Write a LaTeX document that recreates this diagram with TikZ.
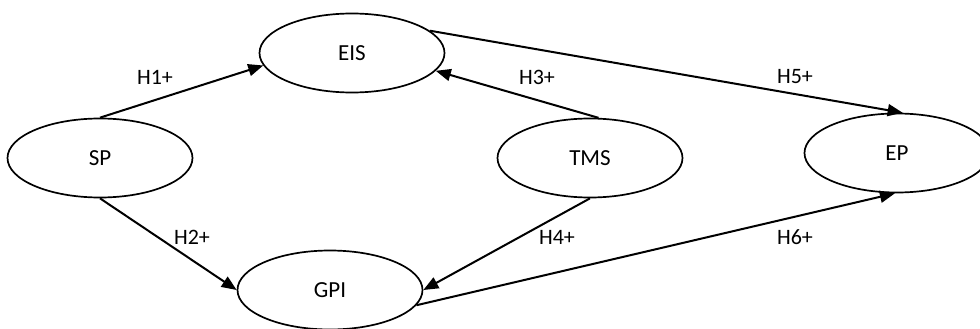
\documentclass[tikz,border=0pt]{standalone}
\usepackage{fontspec}
\setmainfont{Carlito}
\usetikzlibrary{shapes.geometric,arrows.meta}
\begin{document}
\begin{tikzpicture}[x=1pt,y=-1pt,
  construct/.style={ellipse,draw,line width=1.7pt,minimum width=185pt,minimum height=79pt,inner sep=0pt,font=\fontsize{23}{27}\selectfont},
  hyp/.style={font=\fontsize{22}{26}\selectfont,inner sep=0pt},
  link/.style={line width=2pt,-{Triangle[length=15pt,width=12pt]}}]
\useasboundingbox (0,0) rectangle (980,329);
\clip (0,0) rectangle (980,329);
\node[construct] (EIS) at (352,53) {EIS};
\node[construct] (SP) at (100,158) {SP};
\node[construct] (TMS) at (590,158) {TMS};
\node[construct] (EP) at (897,153) {EP};
\node[construct] (GPI) at (330,290) {GPI};
\draw[link] (SP.north) -- (EIS.188);
\draw[link] (TMS.78) -- (EIS.-12);
\draw[link] (EIS.16) -- (EP.82);
\draw[link] (SP.south) -- (GPI.west);
\draw[link] (TMS.south) -- (GPI.east);
\draw[link] (GPI.-10) -- (EP.-93);
\node[hyp] (h1) at (155,77) {H1+};
\node[hyp] (h3) at (537,77) {H3+};
\node[hyp] (h5) at (795,77) {H5+};
\node[hyp] (h2) at (192,237) {H2+};
\node[hyp] (h4) at (557,237) {H4+};
\node[hyp] (h6) at (795,237) {H6+};
\end{tikzpicture}
\end{document}
